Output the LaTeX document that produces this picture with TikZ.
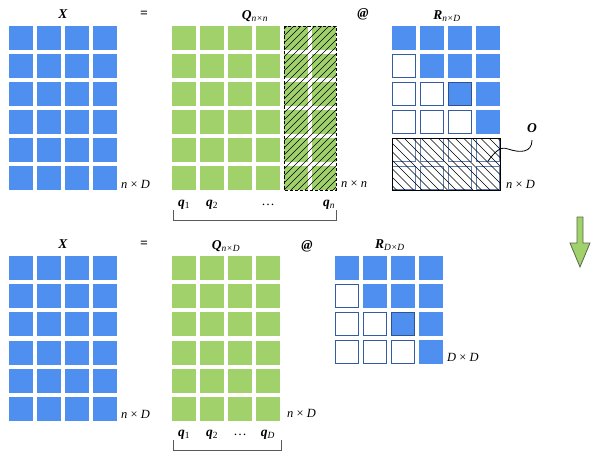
\documentclass[tikz,border=0pt]{standalone}
\usepackage{fontspec}
\setmainfont{Liberation Serif}
\definecolor{cblue}{RGB}{79,143,240}
\definecolor{cgreen}{RGB}{160,209,106}
\definecolor{cedge}{RGB}{52,92,160}
\definecolor{garrow}{RGB}{90,105,80}
\begin{document}
\begin{tikzpicture}[x=1pt,y=-1pt,
  lab/.style={font=\fontsize{13.5}{13.5}\selectfont\bfseries\itshape, inner sep=0},
  dimlab/.style={font=\fontsize{12.5}{12.5}\selectfont\itshape, inner sep=0, anchor=west},
  bfill/.style={fill=cblue},
  gfill/.style={fill=cgreen},
  ecell/.style={draw=cedge, line width=1.1pt},
  dcell/.style={fill=cblue, draw=cedge!90!black, line width=1.1pt},
  hline/.style={black, line width=0.5pt},
  brack/.style={draw=black!65, line width=0.9pt}]
\useasboundingbox (0,0) rectangle (596,458);

% ---------- top row ----------
\foreach \i in {0,...,3} \foreach \j in {0,...,5}
  \fill[bfill] (9+28*\i,26+28*\j) rectangle ++(24,24);
\foreach \i in {0,...,5} \foreach \j in {0,...,5}
  \fill[gfill] (172+28*\i,26+28*\j) rectangle ++(24,24);
\begin{scope}
  \clip (284,26) rectangle (336,190);
  \foreach \k in {0,...,32} \draw[hline] (116+7*\k,190) -- ++(164,-164);
\end{scope}
\draw[dash pattern=on 3pt off 2pt, line width=0.8pt] (284,26) rectangle (336,190);
\foreach \j in {0,...,3} \foreach \i in {0,...,3} {
  \ifnum\i<\j
    \draw[ecell] (392.6+28*\i,26.6+28*\j) rectangle ++(22.8,22.8);
  \else
    \fill[bfill] (392+28*\i,26+28*\j) rectangle ++(24,24);
  \fi
}
\draw[dcell] (448.6,82.6) rectangle ++(22.8,22.8);
\foreach \j in {4,5} \foreach \i in {0,...,3}
  \draw[cedge!80, line width=0.9pt] (392.6+28*\i,26.6+28*\j) rectangle ++(22.8,22.8);
\begin{scope}
  \clip (392,138) rectangle (500,190);
  \foreach \k in {0,...,20} \draw[hline] (336+8.5*\k,138) -- ++(60,60);
\end{scope}
\draw[black, line width=0.9pt] (392,138) rectangle (500,190);

\node[lab] (X1) at (63,14) {X};
\node[lab] (eq1) at (144,14) {=};
\node[lab] (Q1) at (255,16) {Q\textsubscript{\mdseries n×n}};
\node[lab] (at1) at (363,14) {@};
\node[lab] (R1) at (447,16) {R\textsubscript{\mdseries n×D}};
\node[dimlab] (d1) at (121,184) {n \upshape× \itshape D};
\node[dimlab] (d2) at (341,184) {n \upshape× \itshape n};
\node[dimlab] (d3) at (506,184) {n \upshape× \itshape D};
\node[lab] (q11) at (184,205) {q\textsubscript{\normalfont 1}};
\node[lab] (q12) at (212,205) {q\textsubscript{\normalfont 2}};
\node[lab] (q1d) at (268,205) {\mdseries\upshape …};
\node[lab] (q1n) at (329,205) {q\textsubscript{\mdseries n}};
\draw[brack] (173,210) -- (173,220) -- (336,220) -- (336,210);
\node[lab] (O) at (532,128) {O};
\coordinate (oend) at (488,161);
\draw[black, line width=0.8pt] (532,140) .. controls (532,153) and (520,153) .. (508,149) .. controls (500,146) and (495,152) .. (oend);

\filldraw[fill=cgreen, draw=garrow, line width=0.8pt]
  (577,217) -- (583,217) -- (583,243) -- (590,243) -- (580,267) -- (570,243) -- (577,243) -- cycle;

% ---------- bottom row ----------
\foreach \i in {0,...,3} \foreach \j in {0,...,5}
  \fill[bfill] (9+28*\i,256+28.2*\j) rectangle ++(24,24);
\foreach \i in {0,...,3} \foreach \j in {0,...,5}
  \fill[gfill] (172+28*\i,256+28.2*\j) rectangle ++(24,24);
\foreach \j in {0,...,3} \foreach \i in {0,...,3} {
  \ifnum\i<\j
    \draw[ecell] (335.6+28*\i,256.6+28*\j) rectangle ++(22.8,22.8);
  \else
    \fill[bfill] (335+28*\i,256+28*\j) rectangle ++(24,24);
  \fi
}
\draw[dcell] (391.6,312.6) rectangle ++(22.8,22.8);

\node[lab] (X2) at (63,244) {X};
\node[lab] (eq2) at (144,244) {=};
\node[lab] (Q2) at (226,246) {Q\textsubscript{\mdseries n×D}};
\node[lab] (at2) at (307,246) {@};
\node[lab] (R2) at (390,245) {R\textsubscript{\mdseries D×D}};
\node[dimlab] (d4) at (121,414) {n \upshape× \itshape D};
\node[dimlab] (d5) at (287,413) {n \upshape× \itshape D};
\node[dimlab] (d6) at (447,357) {D \upshape× \itshape D};
\node[lab] (q21) at (184,435) {q\textsubscript{\normalfont 1}};
\node[lab] (q22) at (212,435) {q\textsubscript{\normalfont 2}};
\node[lab] (q2d) at (240,435) {\mdseries\upshape …};
\node[lab] (q2D) at (268,435) {q\textsubscript{\mdseries D}};
\draw[brack] (173,440) -- (173,450) -- (281,450) -- (281,440);
\end{tikzpicture}
\end{document}
